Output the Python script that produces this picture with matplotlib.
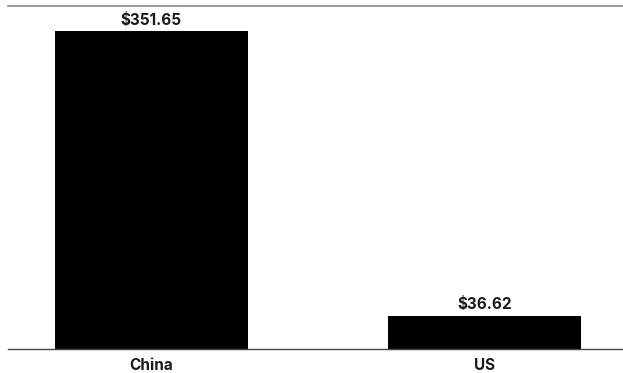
import matplotlib

matplotlib.use("Agg")
import matplotlib.pyplot as plt

countries = ["China", "US"]
values = [351.65, 36.62]
labels = ["$351.65", "$36.62"]

W, H = 623, 373
fig = plt.figure(figsize=(W / 100, H / 100), dpi=100)
ax = fig.add_axes([8 / W, (H - 349) / H, 615 / W, (349 - 6) / H])

x = range(len(countries))
bars = ax.bar(x, values, width=0.579, color="black")
ax.set_xlim(-0.43, 1.414)
ax.set_ylim(0, 379.3)

font = dict(fontsize=11, fontweight="bold", family="Inter", color="#1a1a1a")
for b, lab in zip(bars, labels):
    ax.annotate(lab, (b.get_x() + b.get_width() / 2, b.get_height()),
                xytext=(0, 2.5), textcoords="offset points", ha="center", va="bottom",
                **font)

ax.set_xticks(list(x))
ax.set_xticklabels(countries, **font)
ax.tick_params(axis="x", length=0, pad=6.5)
ax.set_yticks([])

for s in ("left", "right"):
    ax.spines[s].set_visible(False)
ax.spines["top"].set_color("#888888")
ax.spines["top"].set_linewidth(1.2)
ax.spines["bottom"].set_color("#444444")
ax.spines["bottom"].set_linewidth(1.0)

fig.savefig("out.png", dpi=100)
